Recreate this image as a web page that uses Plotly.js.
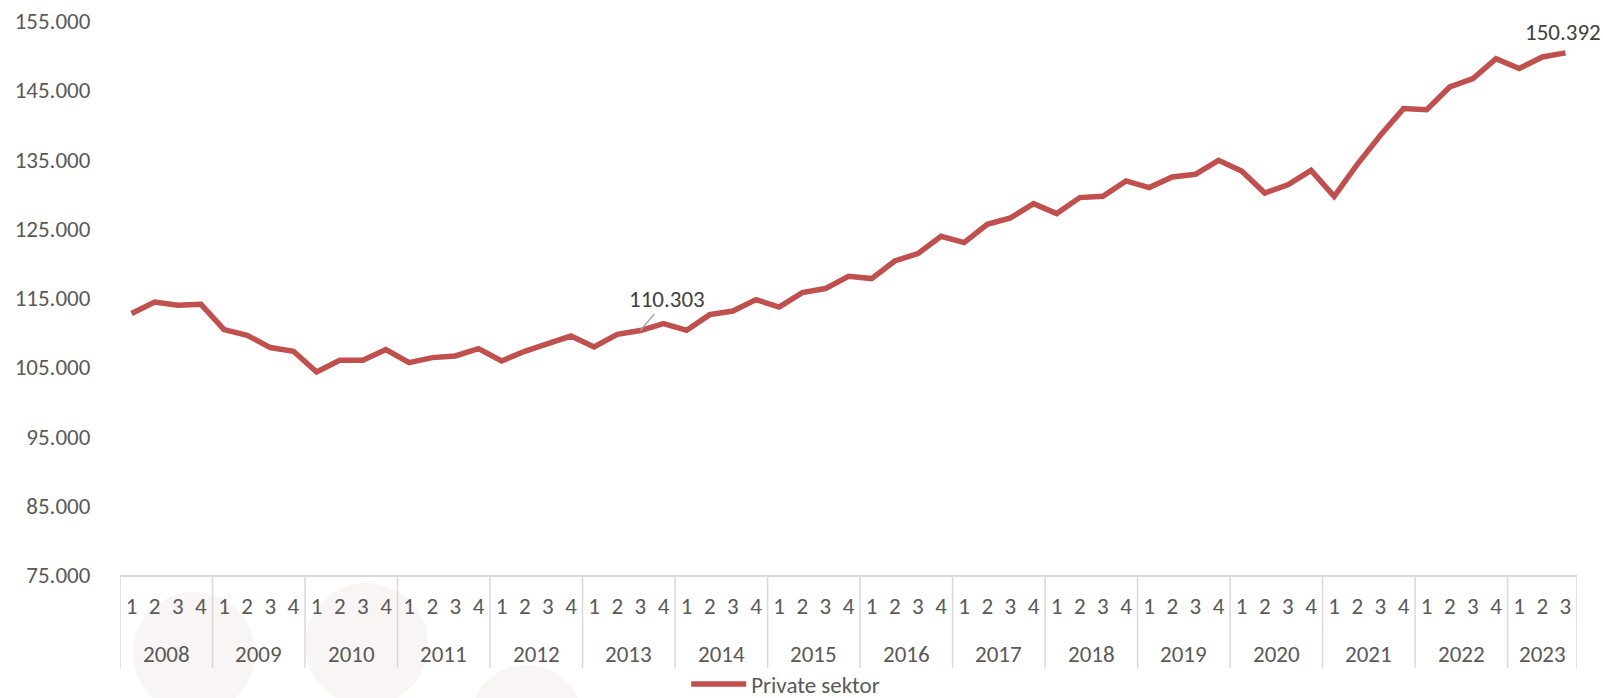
<!DOCTYPE html>
<html>
<head>
<meta charset="utf-8">
<script src="https://cdn.plot.ly/plotly-3.0.1.min.js"></script>
<style>
  html, body { margin: 0; padding: 0; background: #ffffff; }
  #chart { width: 1603px; height: 698px; }
</style>
</head>
<body>
<div id="chart"></div>
<script>
// ---- data ----
var years = ['2008','2009','2010','2011','2012','2013','2014','2015','2016','2017','2018','2019','2020','2021','2022','2023'];
var quartersPerYear = [4,4,4,4,4,4,4,4,4,4,4,4,4,4,4,3];
var quarterLabels = ['1','2','3','4'];
var privateSektor = [
  112750, 114420, 113950, 114090,
  110440, 109610, 107840, 107300,
  104310, 106000, 106000, 107550,
  105670, 106390, 106630, 107690,
  105900, 107300, 108410, 109510,
  107920, 109760, 110303, 111300,
  110330, 112600, 113120, 114770,
  113700, 115780, 116360, 118130,
  117800, 120350, 121410, 123910,
  123000, 125640, 126550, 128630,
  127190, 129500, 129690, 131900,
  130940, 132470, 132860, 134880,
  133340, 130160, 131350, 133440,
  129690, 134300, 138500, 142350,
  142200, 145470, 146680, 149570,
  148130, 149800, 150392
];
var seriesName = 'Private sektor';
var labelledIndex = [22, 62];
var yTicks = [75000, 85000, 95000, 105000, 115000, 125000, 135000, 145000, 155000];

// ---- build category axis (one category per quarter) ----
var xCat = [], xTickText = [];
years.forEach(function (y, i) {
  for (var q = 0; q < quartersPerYear[i]; q++) {
    xCat.push(y + ' Q' + quarterLabels[q]);
    xTickText.push(quarterLabels[q]);
  }
});

function fmt(v) {
  return String(Math.round(v)).replace(/\B(?=(\d{3})+(?!\d))/g, '.');
}

var FONT = 'Carlito, Lato, "Open Sans", sans-serif';
var FS = 23;
var RED = '#C0504D';
var GRID = '#d9d9d9';

var trace = {
  type: 'scatter',
  mode: 'lines',
  x: xCat,
  y: privateSektor,
  name: seriesName,
  line: { color: RED, width: 5.5, shape: 'linear' },
  hoverinfo: 'skip'
};

// ---- year group labels and dividers (positions from category indices) ----
var annotations = [];
var shapes = [];
var DIV_BOTTOM = -0.168;   // paper units below the plot
var YEAR_Y = -0.1425;
var start = 0;
shapes.push({ type: 'line', xref: 'x', yref: 'paper', x0: -0.5, x1: -0.5, y0: 0, y1: DIV_BOTTOM,
              line: { color: GRID, width: 1.5 }, layer: 'above' });
years.forEach(function (y, i) {
  var n = quartersPerYear[i];
  annotations.push({
    x: start + (n - 1) / 2, xref: 'x', y: YEAR_Y, yref: 'paper',
    text: y, showarrow: false, yanchor: 'middle', xanchor: 'center',
    font: { family: FONT, size: FS, color: '#595959' }
  });
  start += n;
  shapes.push({ type: 'line', xref: 'x', yref: 'paper', x0: start - 0.5, x1: start - 0.5, y0: 0, y1: DIV_BOTTOM,
                line: { color: GRID, width: 1.5 }, layer: 'above' });
});

annotations.push({
  x: labelledIndex[0], y: privateSektor[labelledIndex[0]], xref: 'x', yref: 'y',
  text: fmt(privateSektor[labelledIndex[0]]),
  showarrow: true, arrowhead: 0, arrowwidth: 1.5, arrowcolor: '#A6A6A6',
  ax: 27, ay: -32, standoff: 0, startstandoff: 0,
  font: { family: FONT, size: FS, color: '#404040' }
});
annotations.push({
  x: labelledIndex[1], y: privateSektor[labelledIndex[1]], xref: 'x', yref: 'y',
  text: fmt(privateSektor[labelledIndex[1]]),
  showarrow: false, xshift: -2, yshift: 21,
  font: { family: FONT, size: FS, color: '#404040' }
});

// faint background watermark discs
function circ(px0, px1, py0, py1) {
  var L = 120, W = 1456.6, B = 575, H = 554;
  return {
    type: 'circle', xref: 'paper', yref: 'paper', layer: 'below',
    x0: (px0 - L) / W, x1: (px1 - L) / W,
    y0: (B - py1) / H, y1: (B - py0) / H,
    fillcolor: '#f9f5f5', line: { width: 0 }
  };
}
shapes.push(circ(133, 255, 592, 714));
shapes.push(circ(305, 428, 583, 706));
shapes.push(circ(470, 583, 665, 778));

var layout = {
  width: 1603, height: 698,
  margin: { l: 120, r: 26, t: 21, b: 123, autoexpand: false },
  paper_bgcolor: '#ffffff', plot_bgcolor: 'rgba(0,0,0,0)',
  separators: ',.',
  font: { family: FONT, size: FS, color: '#595959' },
  showlegend: true,
  legend: {
    orientation: 'h', xref: 'paper', x: 0.3886, xanchor: 'left',
    yref: 'container', y: 1 - 684 / 698, yanchor: 'middle',
    itemwidth: 55,
    font: { family: FONT, size: FS, color: '#595959' },
    bgcolor: 'rgba(0,0,0,0)'
  },
  xaxis: {
    type: 'category',
    categoryorder: 'array', categoryarray: xCat,
    range: [-0.5, xCat.length - 0.5],
    tickmode: 'array', tickvals: xCat, ticktext: xTickText,
    tickangle: 0,
    ticks: 'outside', ticklen: 10, tickcolor: 'rgba(0,0,0,0)',
    showline: true, linecolor: GRID, linewidth: 1.5,
    showgrid: false, zeroline: false, automargin: false,
    tickfont: { family: FONT, size: FS, color: '#595959' }
  },
  yaxis: {
    range: [75000, 155000],
    tickmode: 'array', tickvals: yTicks,
    tickformat: ',d',
    showgrid: false, zeroline: false, showline: false, automargin: false,
    ticks: 'outside', ticklen: 24, tickcolor: 'rgba(0,0,0,0)',
    tickfont: { family: FONT, size: FS, color: '#595959' }
  },
  annotations: annotations,
  shapes: shapes
};

Plotly.newPlot('chart', [trace], layout, { displayModeBar: false, staticPlot: true });
</script>
</body>
</html>
